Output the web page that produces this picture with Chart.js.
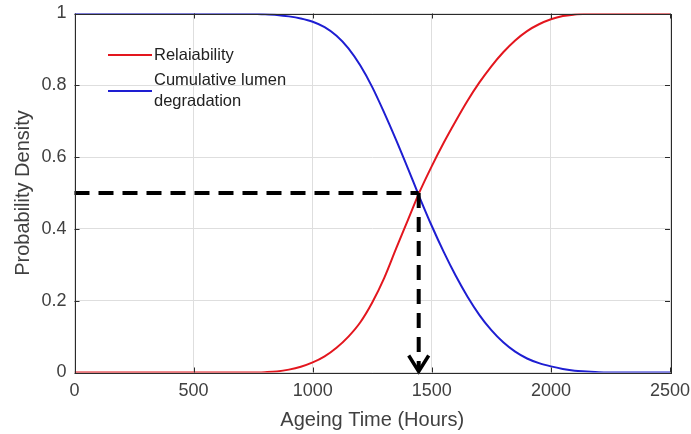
<!DOCTYPE html>
<html>
<head>
<meta charset="utf-8">
<script src="https://cdn.jsdelivr.net/npm/chart.js@4.4.1/dist/chart.umd.min.js"></script>
<style>
  html, body { margin:0; padding:0; background:#fff; }
  #wrap { width:691px; height:434px; }
</style>
</head>
<body>
<div id="wrap"><canvas id="c" width="691" height="434"></canvas></div>
<script>
// ageing time (hours) sampled along the curves
const hours = [0, 500, 700, 750, 800, 850, 900, 950, 1000, 1050, 1100, 1150, 1200, 1250, 1300, 1350, 1400, 1450,
  1500, 1550, 1600, 1650, 1700, 1750, 1800, 1850, 1900, 1950, 2000, 2050, 2100, 2150, 2200, 2300, 2500];
const reliability = [0, 0, 0, 0, 0.001, 0.003, 0.008, 0.016, 0.028, 0.045, 0.069, 0.10, 0.14, 0.195, 0.263, 0.345, 0.425, 0.505,
  0.575, 0.64, 0.70, 0.757, 0.808, 0.853, 0.892, 0.925, 0.951, 0.97, 0.984, 0.993, 0.997, 0.999, 1, 1, 1];
const lumenDeg = [1, 1, 1, 0.999, 0.998, 0.996, 0.992, 0.986, 0.977, 0.962, 0.938, 0.903, 0.855, 0.795, 0.724, 0.648, 0.568, 0.486,
  0.408, 0.336, 0.27, 0.211, 0.16, 0.118, 0.084, 0.058, 0.039, 0.026, 0.017, 0.01, 0.005, 0.003, 0.001, 0, 0];
const seriesNames = ['Relaiability', 'Cumulative lumen\ndegradation'];
const seriesColors = ['#e3161e', '#1e1ed2'];
const xTicks = [0, 500, 1000, 1500, 2000, 2500];
const yTicks = [0, 0.2, 0.4, 0.6, 0.8, 1];
// crossing point marked with dashed guide lines
const markX = 1445;
const markY = 0.5;

const toPts = ys => hours.map((h, i) => ({ x: h, y: ys[i] }));
const axisGrey = '#404040';
const font = 'Liberation Sans, Arial, Helvetica, sans-serif';

const extras = {
  id: 'extras',
  afterDatasetsDraw(chart) {
    const { ctx, chartArea: a, scales: { x, y } } = chart;
    ctx.save();

    // dashed guides + arrow
    const px = x.getPixelForValue(markX), py = y.getPixelForValue(markY), y0 = y.getPixelForValue(0);
    ctx.strokeStyle = '#000';
    ctx.lineWidth = 4;
    ctx.setLineDash([15, 9]);
    ctx.beginPath();
    ctx.moveTo(x.getPixelForValue(0), py); ctx.lineTo(px, py);
    ctx.stroke();
    ctx.beginPath();
    ctx.moveTo(px, py); ctx.lineTo(px, y0 - 2);
    ctx.stroke();
    ctx.setLineDash([]);
    ctx.lineWidth = 3.5;
    ctx.beginPath();
    ctx.moveTo(px - 10, y0 - 17); ctx.lineTo(px, y0 - 1); ctx.lineTo(px + 10, y0 - 17);
    ctx.stroke();

    // box + inward ticks
    ctx.strokeStyle = '#2b2b2b';
    ctx.lineWidth = 1;
    ctx.strokeRect(Math.round(a.left) + 0.5, Math.round(a.top) + 0.5,
      Math.round(a.right - a.left), Math.round(a.bottom - a.top));
    ctx.beginPath();
    xTicks.forEach(v => {
      const p = Math.round(x.getPixelForValue(v)) + 0.5;
      ctx.moveTo(p, a.bottom); ctx.lineTo(p, a.bottom - 5);
      ctx.moveTo(p, a.top); ctx.lineTo(p, a.top + 5);
    });
    yTicks.forEach(v => {
      const p = Math.round(y.getPixelForValue(v)) + 0.5;
      ctx.moveTo(a.left, p); ctx.lineTo(a.left + 5, p);
      ctx.moveTo(a.right, p); ctx.lineTo(a.right - 5, p);
    });
    ctx.stroke();

    // legend inside the axes
    const rows = [55, 91];
    ctx.font = '16.5px ' + font;
    ctx.fillStyle = '#222';
    ctx.textBaseline = 'middle';
    seriesNames.forEach((name, i) => {
      ctx.strokeStyle = seriesColors[i];
      ctx.lineWidth = 2;
      ctx.beginPath();
      ctx.moveTo(108, rows[i]); ctx.lineTo(152, rows[i]);
      ctx.stroke();
      const lines = name.split('\n');
      lines.forEach((t, j) => {
        const ty = rows[i] + (j - (lines.length - 1) / 2) * 20.6;
        ctx.fillText(t, 154, ty);
      });
    });
    ctx.restore();
  }
};

new Chart(document.getElementById('c'), {
  type: 'line',
  data: {
    datasets: [
      { label: seriesNames[0], data: toPts(reliability), borderColor: seriesColors[0], order: 1 },
      { label: seriesNames[1], data: toPts(lumenDeg), borderColor: seriesColors[1], order: 0 }
    ]
  },
  options: {
    responsive: false,
    animation: false,
    layout: { padding: { top: 13.5, right: 21, left: 0, bottom: 0 } },
    elements: {
      point: { radius: 0 },
      line: { borderWidth: 2, cubicInterpolationMode: 'monotone', fill: false }
    },
    plugins: { legend: { display: false }, tooltip: { enabled: false } },
    scales: {
      x: {
        type: 'linear', min: 0, max: 2500,
        afterFit: s => { s.height = 61.5; s.paddingRight = 0; s.paddingLeft = 0; },
        afterBuildTicks: s => { s.ticks = xTicks.map(v => ({ value: v })); },
        ticks: { color: axisGrey, font: { family: font, size: 18 }, padding: 8, maxRotation: 0,
          callback: v => String(v) },
        grid: { color: '#dedede', drawTicks: false },
        border: { display: false },
        title: { display: true, text: 'Ageing Time (Hours)', color: axisGrey,
          font: { family: font, size: 20 }, padding: { top: 0, bottom: 2 } }
      },
      y: {
        min: 0, max: 1,
        afterFit: s => { s.width = 74.5; s.paddingTop = 0; s.paddingBottom = 0; },
        afterBuildTicks: s => { s.ticks = yTicks.map(v => ({ value: v })); },
        ticks: { color: axisGrey, font: { family: font, size: 18 }, padding: 8,
          callback: v => String(v) },
        grid: { color: '#dedede', drawTicks: false },
        border: { display: false },
        title: { display: true, text: 'Probability Density', color: axisGrey,
          font: { family: font, size: 20 }, padding: { top: 11, bottom: 0 } }
      }
    }
  },
  plugins: [extras]
});
</script>
</body>
</html>
